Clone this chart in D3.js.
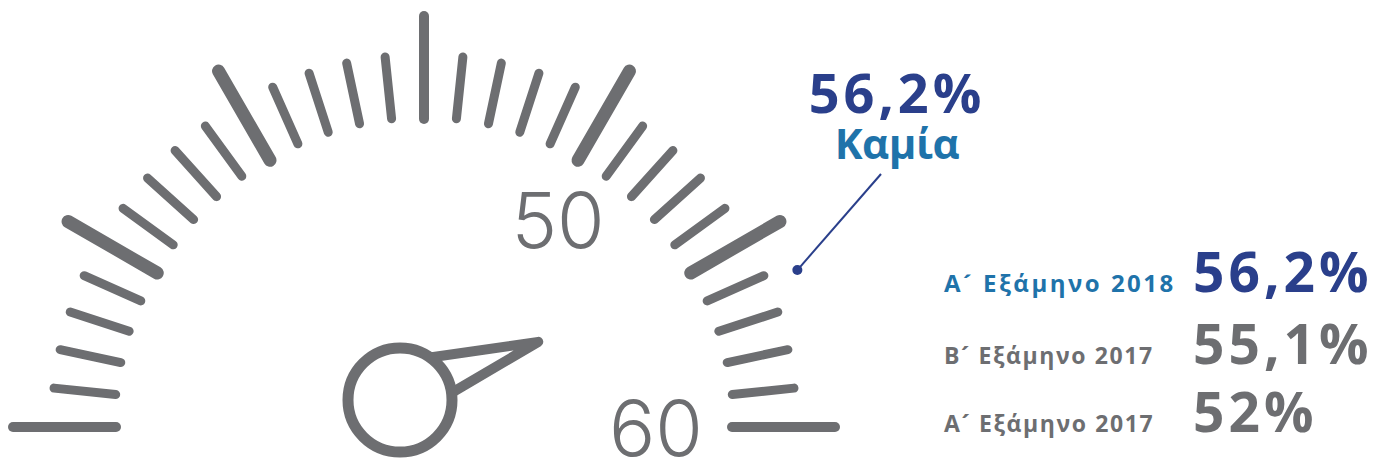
<!DOCTYPE html>
<html>
<head>
<meta charset="utf-8">
<script src="https://cdn.jsdelivr.net/npm/d3@7"></script>
<style>
  html, body { margin: 0; padding: 0; background: #fff; }
  svg { display: block; }
</style>
</head>
<body>
<svg id="chart" width="1374" height="465"></svg>
<script>
// ---- data ----
const gaugeDomain = [30, 60];
const tickValues = d3.range(30, 61, 1);
const tickLabels = [50, 60];
const currentValue = 56.2;
const currentCategory = "Καμία";
const periods = ["Α\u00B4 Εξάμηνο 2018", "Β\u00B4 Εξάμηνο 2017", "Α\u00B4 Εξάμηνο 2017"];
const periodValues = [56.2, 55.1, 52];

// ---- style ----
const GRAY = "#6d6e71";
const DARK_BLUE = "#2a3f8b";
const STEEL = "#1f73aa";
const FONT = "'Open Sans', sans-serif";

const svg = d3.select("#chart");
const cx = 424, cy = 427;
const angle = d3.scaleLinear().domain(gaugeDomain).range([Math.PI, 0]);
const fmt = v => String(v).replace(".", ",") + "%";
const pt = (v, r) => [cx + r * Math.cos(angle(v)), cy - r * Math.sin(angle(v))];

const g = svg.append("g");

// ticks
g.selectAll("line.tick").data(tickValues).join("line")
  .attr("class", "tick")
  .each(function(v) {
    const major = v % 5 === 0;
    const r0 = major ? 308 : 310, r1 = major ? 411 : 372;
    const [x0, y0] = pt(v, r0), [x1, y1] = pt(v, r1);
    d3.select(this).attr("x1", x0).attr("y1", y0).attr("x2", x1).attr("y2", y1);
  })
  .attr("stroke", GRAY)
  .attr("stroke-linecap", "round")
  .attr("stroke-width", v => v % 5 !== 0 ? 9 : (v % 15 === 0 ? 10 : 13));

// tick labels
g.selectAll("text.lbl").data(tickLabels).join("text")
  .attr("class", "lbl")
  .attr("x", v => pt(v, 240)[0] + (v === 50 ? 14 : -8))
  .attr("y", v => pt(v, 240)[1] + 29)
  .attr("text-anchor", "middle")
  .attr("font-family", "Inter, sans-serif")
  .attr("font-weight", 300)
  .attr("font-size", 77)
  .attr("fill", GRAY)
  .text(d => d);

// needle
const hx = 400, hy = 400, hr = 52;
const th = angle(currentValue);
const L = 150;
const needle = [
  [hx + hr * Math.cos(th + 0.56), hy - hr * Math.sin(th + 0.56)],
  [hx + L * Math.cos(th), hy - L * Math.sin(th)],
  [hx + hr * Math.cos(th - 0.26), hy - hr * Math.sin(th - 0.26)]
];
g.append("path")
  .attr("d", d3.line()(needle) + "Z")
  .attr("fill", "#fff")
  .attr("stroke", GRAY)
  .attr("stroke-width", 10)
  .attr("stroke-linejoin", "round");
g.append("circle")
  .attr("cx", hx).attr("cy", hy).attr("r", hr)
  .attr("fill", "#fff")
  .attr("stroke", GRAY)
  .attr("stroke-width", 11);

// annotation
const dot = pt(currentValue, 405);
const annX = 897;
g.append("line")
  .attr("x1", dot[0]).attr("y1", dot[1])
  .attr("x2", annX - 16).attr("y2", 174)
  .attr("stroke", DARK_BLUE).attr("stroke-width", 2);
g.append("circle")
  .attr("cx", dot[0]).attr("cy", dot[1]).attr("r", 5)
  .attr("fill", DARK_BLUE);
g.append("text")
  .attr("x", annX).attr("y", 113)
  .attr("text-anchor", "middle")
  .attr("font-family", FONT).attr("font-weight", 700)
  .attr("font-size", 54).attr("letter-spacing", 4)
  .attr("fill", DARK_BLUE)
  .text(fmt(currentValue));
g.append("text")
  .attr("x", annX).attr("y", 159)
  .attr("text-anchor", "middle")
  .attr("font-family", FONT).attr("font-weight", 700)
  .attr("font-size", 42).attr("letter-spacing", -0.5)
  .attr("fill", STEEL)
  .text(currentCategory);

// legend
const baselines = [292, 364, 432];
const leg = g.selectAll("g.leg").data(periods.map((p, i) => ({p, v: periodValues[i], i}))).join("g")
  .attr("class", "leg")
  .attr("transform", d => `translate(0,${baselines[d.i]})`);
leg.append("text")
  .attr("x", 944)
  .attr("font-family", FONT).attr("font-weight", 700)
  .attr("font-size", d => d.i === 0 ? 24 : 23)
  .attr("letter-spacing", d => d.i === 0 ? 2.5 : 1.6)
  .attr("fill", d => d.i === 0 ? STEEL : GRAY)
  .text(d => d.p);
leg.append("text")
  .attr("x", 1193)
  .attr("font-family", FONT).attr("font-weight", 700)
  .attr("font-size", 55).attr("letter-spacing", 4)
  .attr("fill", d => d.i === 0 ? DARK_BLUE : GRAY)
  .text(d => fmt(d.v));
</script>
</body>
</html>
